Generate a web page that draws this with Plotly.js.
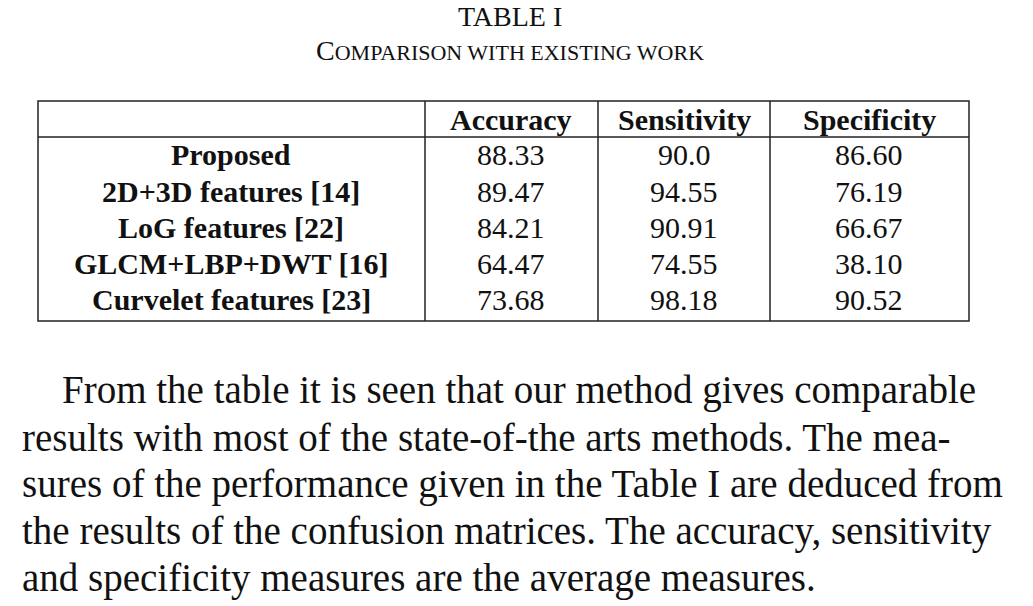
<!DOCTYPE html>
<html>
<head>
<meta charset="utf-8">
<script src="https://cdn.plot.ly/plotly-3.0.1.min.js"></script>
<style>body{margin:0;background:#fff}#chart{width:1033px;height:606px}</style>
</head>
<body>
<div id="chart"></div>
<script>
const methods = ["Proposed", "2D+3D features [14]", "LoG features [22]", "GLCM+LBP+DWT [16]", "Curvelet features [23]"];
const headers = ["", "Accuracy", "Sensitivity", "Specificity"];
const accuracy = ["88.33", "89.47", "84.21", "64.47", "73.68"];
const sensitivity = ["90.0", "94.55", "90.91", "74.55", "98.18"];
const specificity = ["86.60", "76.19", "66.67", "38.10", "90.52"];
const paragraph = [
  "From the table it is seen that our method gives comparable",
  "results with most of the state-of-the arts methods. The mea-",
  "sures of the performance given in the Table I are deduced from",
  "the results of the confusion matrices. The accuracy, sensitivity",
  "and specificity measures are the average measures."
];

const serif = "Liberation Serif, Times New Roman, serif";
const W = 1033, H = 606;
const x0 = 38 / W, x1 = 969 / W;
const yTop = 1 - 101 / H, yBot = 1 - 321 / H, yHead = 1 - 137 / H;
const vlines = [425, 598, 770].map(v => v / W);
const colCenters = [231, 511, 684, 869].map(v => v / W);
const headerY = 1 - 119 / H;
const rowY = i => 1 - (155 + i * 36.2) / H;

const lineStyle = { color: "#222", width: 1.5 };
const shapes = [
  { type: "rect", xref: "paper", yref: "paper", x0: x0, x1: x1, y0: yBot, y1: yTop, line: lineStyle },
  { type: "line", xref: "paper", yref: "paper", x0: x0, x1: x1, y0: yHead, y1: yHead, line: lineStyle }
].concat(vlines.map(v => ({ type: "line", xref: "paper", yref: "paper", x0: v, x1: v, y0: yBot, y1: yTop, line: lineStyle })));

const columns = [methods.map(m => "<b>" + m + "</b>"), accuracy, sensitivity, specificity];
let cellNotes = headers.map((h, c) => ({ text: "<b>" + h + "</b>", x: colCenters[c], y: headerY, font: { size: 30 } }));
columns.forEach((col, c) => col.forEach((v, r) => cellNotes.push({ text: v, x: colCenters[c], y: rowY(r), font: { size: 30 } })));

const annotations = [
  { text: "TABLE I", x: 0.494, y: 1 - 17 / H, font: { size: 28 } },
  { text: "C<span style='font-size:22px'>OMPARISON WITH EXISTING WORK</span>", x: 0.494, y: 1 - 51 / H, font: { size: 28 } }
].concat(cellNotes).concat(paragraph.map((t, i) => ({
  text: t, x: i === 0 ? 60 / W : 20 / W, xanchor: "left",
  y: 1 - (390 + i * 47) / H, font: { size: 39 }
}))).map(a => Object.assign({ xref: "paper", yref: "paper", showarrow: false, xanchor: "center", yanchor: "middle" }, a, {
  font: Object.assign({ family: serif, color: "#111" }, a.font)
}));

Plotly.newPlot("chart", [], {
  width: W, height: H,
  margin: { l: 0, r: 0, t: 0, b: 0 },
  paper_bgcolor: "white",
  plot_bgcolor: "white",
  xaxis: { visible: false }, yaxis: { visible: false },
  shapes: shapes,
  annotations: annotations
}, { displayModeBar: false, staticPlot: true });
</script>
</body>
</html>
